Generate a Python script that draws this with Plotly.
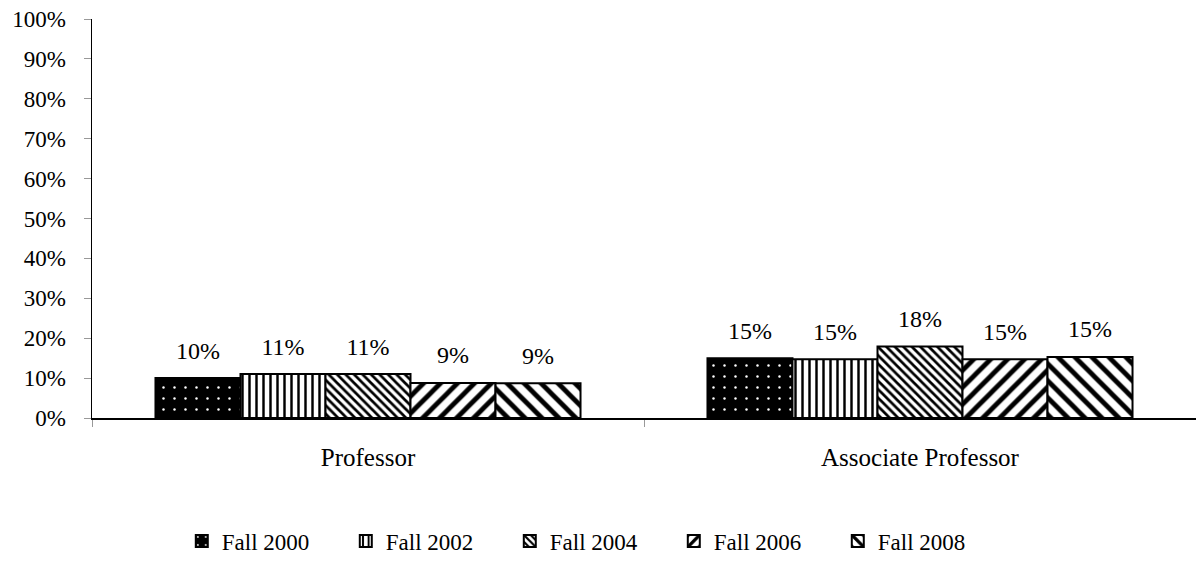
import plotly.graph_objects as go

categories = ["Professor", "Associate Professor"]
series_names = ["Fall 2000", "Fall 2002", "Fall 2004", "Fall 2006", "Fall 2008"]
fall_2000 = [0.100, 0.150]
fall_2002 = [0.110, 0.147]
fall_2004 = [0.110, 0.179]
fall_2006 = [0.088, 0.147]
fall_2008 = [0.087, 0.153]
series_values = [fall_2000, fall_2002, fall_2004, fall_2006, fall_2008]

patterns = [
    dict(shape=".", bgcolor="black", fgcolor="white", size=11, solidity=0.04, fillmode="replace"),
    dict(shape="|", bgcolor="white", fgcolor="black", size=7, solidity=0.35, fillmode="replace"),
    dict(shape="\\", bgcolor="white", fgcolor="black", size=6, solidity=0.45, fillmode="replace"),
    dict(shape="/", bgcolor="white", fgcolor="black", size=12, solidity=0.4, fillmode="replace"),
    dict(shape="\\", bgcolor="white", fgcolor="black", size=12, solidity=0.4, fillmode="replace"),
]
base_colors = ["black", "white", "white", "white", "white"]

FONT = "Liberation Serif"
FS = 23

fig = go.Figure()
for i, (name, vals) in enumerate(zip(series_names, series_values)):
    fig.add_trace(go.Bar(
        x=categories, y=vals, name=name,
        marker=dict(color=base_colors[i], pattern=patterns[i],
                    line=dict(color="black", width=2)),
        offsetgroup=str(i), alignmentgroup="a",
        hoverinfo="skip",
    ))
for i, (name, vals) in enumerate(zip(series_names, series_values)):
    fig.add_trace(go.Scatter(
        x=categories, y=vals, mode="markers+text",
        marker=dict(size=20, color="rgba(0,0,0,0)"),
        text=[f"{v:.0%}" for v in vals], textposition="top center",
        textfont=dict(family=FONT, size=24, color="black"),
        offsetgroup=str(i), alignmentgroup="a",
        showlegend=False, hoverinfo="skip", cliponaxis=False,
    ))

fig.update_layout(
    width=1196, height=569, autosize=False,
    barmode="group", bargap=0.23, bargroupgap=0,
    scattermode="group",
    plot_bgcolor="white", paper_bgcolor="white",
    margin=dict(l=92, r=0, t=19, b=151, autoexpand=False),
    font=dict(family=FONT, size=FS, color="black"),
    showlegend=True,
    legend=dict(
        orientation="h", xref="container", yref="container",
        x=0.152, xanchor="left", y=1 - 541 / 569, yanchor="middle",
        entrywidth=119, entrywidthmode="pixels",
        font=dict(family=FONT, size=FS, color="black"),
        itemclick=False, itemdoubleclick=False,
    ),
    xaxis=dict(
        showline=True, linecolor="black", linewidth=1.5,
        ticks="outside", tickson="boundaries", ticklen=7, tickcolor="#999999",
        tickfont=dict(family=FONT, size=25), ticklabelstandoff=16,
        showgrid=False, zeroline=False,
    ),
    yaxis=dict(
        range=[0, 1], dtick=0.1, tickformat=".0%",
        showline=True, linecolor="black", linewidth=1.5,
        ticks="outside", ticklen=7, tickcolor="#999999",
        tickfont=dict(family=FONT, size=FS), ticklabelstandoff=13,
        showgrid=False, zeroline=False,
    ),
)

fig.write_html(
    "out.html",
    config={"displayModeBar": False, "staticPlot": True},
    post_script="document.body.style.margin='0';document.body.style.overflow='hidden';",
)
